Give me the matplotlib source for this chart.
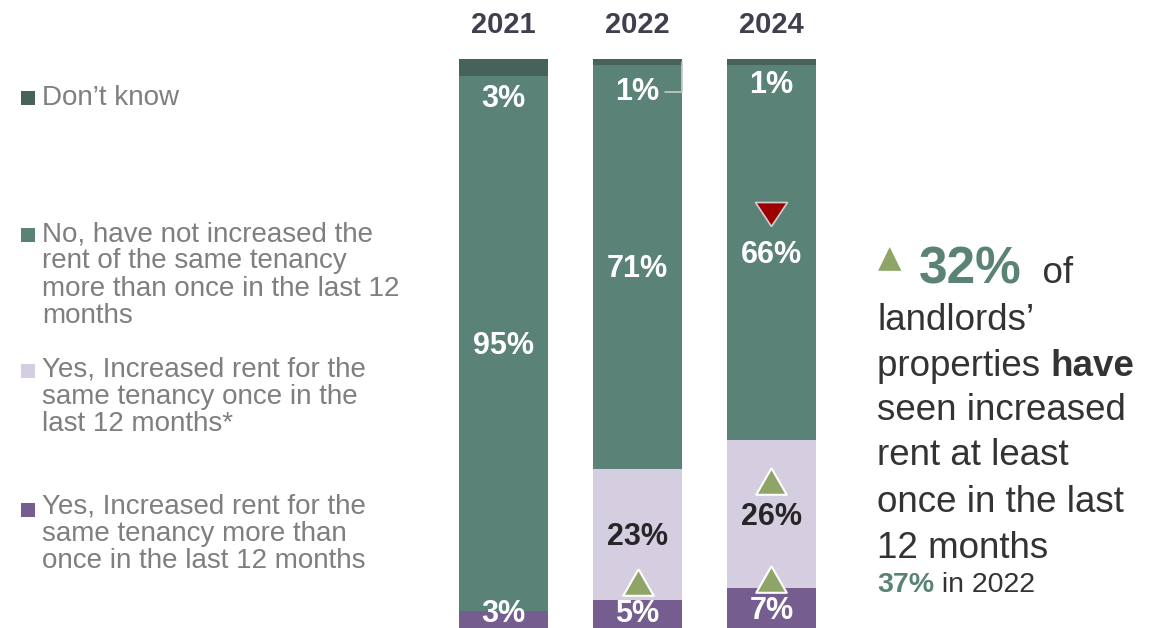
import matplotlib
matplotlib.use("Agg")
import matplotlib.pyplot as plt
import numpy as np
from matplotlib.patches import Rectangle
from matplotlib.transforms import offset_copy

# ---------------- data ----------------
years = ["2021", "2022", "2024"]
series_labels = [
    "Yes, Increased rent for the\nsame tenancy more than\nonce in the last 12 months",
    "Yes, Increased rent for the\nsame tenancy once in the\nlast 12 months*",
    "No, have not increased the\nrent of the same tenancy\nmore than once in the last 12\nmonths",
    "Don\u2019t know",
]
more_than_once = [3, 5, 7]
once = [0, 23, 26]
not_increased = [95, 71, 66]
dont_know = [3, 1, 1]

# significance markers: (year index, series index, direction)
sig_markers = [(1, 0, "up"), (2, 0, "up"), (2, 1, "up"), (2, 2, "down")]

headline_value = 32
comparison_value = 37
comparison_year = "2022"

# ---------------- style ----------------
W, H = 1166, 628
FONT = "Liberation Sans"
plt.rcParams["font.family"] = [FONT, "DejaVu Sans"]
colors = ["#765d8f", "#d5cde0", "#5a8276", "#46625a"]
label_colors = ["white", "#262626", "white", "white"]
legend_text_color = "#7f7f7f"
year_color = "#3f3f4f"
body_color = "#333333"
teal = "#5a8276"
olive = "#8fa467"
red = "#9c0000"

UP_TRI = [(0, 0.87), (-1, -0.87), (1, -0.87), (0, 0.87)]
DOWN_TRI = [(0, -0.75), (-1, 0.75), (1, 0.75), (0, -0.75)]

fig = plt.figure(figsize=(W / 100, H / 100), dpi=100)


def fx(px):
    return px / W


def fy(py):
    return 1 - py / H


ax = fig.add_axes([fx(440), 0, fx(835) - fx(440), (628 - 59) / H])
ax.set_axis_off()
ax.set_xlim(-0.474, 2.474)
ax.set_ylim(0, 100)

data = np.array([more_than_once, once, not_increased, dont_know], dtype=float)
totals = data.sum(axis=0)
norm = data / totals * 100
x = np.arange(len(years))
bw = 0.664

label_tr = offset_copy(ax.transData, fig=fig, x=0, y=-2, units="points")
bottoms = np.zeros(len(years))
label_pos = {}
for s in range(4):
    ax.bar(x, norm[s], bottom=bottoms, width=bw, color=colors[s],
           edgecolor="none", zorder=2)
    for i in range(len(years)):
        if data[s, i] == 0 or s == 3:
            continue
        mid = bottoms[i] + norm[s, i] / 2
        if s == 0:
            mid = max(mid, 2.9)   # keep the bottom label inside the figure
        label_pos[(i, s)] = mid
        ax.text(x[i], mid, f"{int(data[s, i])}%", ha="center", va="center",
                fontsize=22, fontweight="bold", color=label_colors[s],
                zorder=4, clip_on=False, transform=label_tr)
    bottoms += norm[s]

# Don't know labels: placed just below the top strip
dk_offsets_pt = [-29, -24, -19]
for i in range(len(years)):
    tr = offset_copy(ax.transData, fig=fig, x=0, y=dk_offsets_pt[i], units="points")
    if i == 1:
        top = bottoms[i]
        ax.annotate(f"{int(dont_know[i])}%", xy=(x[i] + bw / 2, top - norm[3, i] / 2),
                    xytext=(x[i], top), textcoords=tr,
                    ha="center", va="center", fontsize=22, fontweight="bold",
                    color="white", zorder=4,
                    arrowprops=dict(arrowstyle="-", color="#c8c8c8", lw=1.2,
                                    connectionstyle="angle,angleA=0,angleB=90,rad=0",
                                    shrinkA=2, shrinkB=0))
    else:
        ax.text(x[i], bottoms[i], f"{int(dont_know[i])}%", transform=tr,
                ha="center", va="center", fontsize=22, fontweight="bold",
                color="white", zorder=4)

# significance markers (offset above the segment label)
marker_offsets_pt = {0: 21, 1: 24, 2: 28}
for (i, s, d) in sig_markers:
    base = label_pos[(i, s)]
    tr = offset_copy(ax.transData, fig=fig, x=0, y=marker_offsets_pt[s], units="points")
    if d == "up":
        ax.plot(x[i], base, marker=UP_TRI, markersize=22, color=olive,
                markeredgecolor="white", markeredgewidth=1.5, transform=tr,
                zorder=5, clip_on=False)
    else:
        ax.plot(x[i], base, marker=DOWN_TRI, markersize=23, color=red,
                markeredgecolor="#d0d0d0", markeredgewidth=1.2, transform=tr,
                zorder=5, clip_on=False)

# year headers
year_tr = offset_copy(ax.get_xaxis_transform(), fig=fig, x=0, y=18.7, units="points")
for i, yr in enumerate(years):
    ax.text(x[i], 1.0, yr, transform=year_tr, ha="center",
            va="baseline", fontsize=21, fontweight="bold", color=year_color)

# ---------------- legend ----------------
legend_first_baselines = [517, 378, 242, 105]
legend_last_baselines = [568, 431, 323, 105]
for s in range(4):
    fig.text(fx(42), fy(legend_last_baselines[s]), series_labels[s], ha="left",
             va="baseline", fontsize=20, color=legend_text_color,
             linespacing=1.065)
    fig.add_artist(Rectangle((fx(21), fy(legend_first_baselines[s])), fx(14), 14 / H,
                             transform=fig.transFigure, color=colors[s],
                             linewidth=0))

# ---------------- right-hand callout ----------------
fig.canvas.draw()
renderer = fig.canvas.get_renderer()


def chain(prev, txt, **kw):
    bb = prev.get_window_extent(renderer)
    t = fig.text(bb.x1 / W, prev.get_position()[1], txt, va="baseline", **kw)
    return t


tri = fig.text(fx(878), fy(267), "\u25b2", ha="left", va="baseline",
               fontsize=22, color=olive, family="DejaVu Sans")
t32 = fig.text(fx(919), fy(283), f"{headline_value}%", ha="left", va="baseline",
               fontsize=37, fontweight="bold", color=teal)
chain(t32, "  of", fontsize=26.5, color=body_color)

body_lines = [("landlords\u2019", 330), ("properties ", 376), ("seen increased", 420),
              ("rent at least", 465), ("once in the last", 512), ("12 months", 558)]
for txt, yb in body_lines:
    t = fig.text(fx(877), fy(yb), txt, ha="left", va="baseline", fontsize=26.5,
                 color=body_color)
    if txt.startswith("properties"):
        chain(t, "have", fontsize=26.5, fontweight="bold", color=body_color)

t37 = fig.text(fx(877), fy(592), f"{comparison_value}%", ha="left", va="baseline",
               fontsize=20.5, fontweight="bold", color=teal)
chain(t37, f" in {comparison_year}", fontsize=20.5, color=body_color)

fig.savefig("out.png", dpi=100)
